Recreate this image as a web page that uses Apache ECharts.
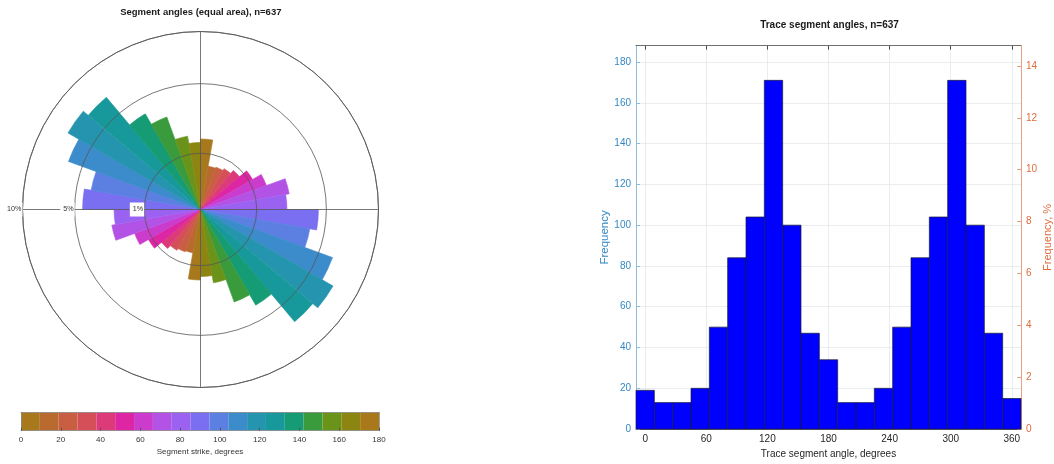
<!DOCTYPE html>
<html><head><meta charset="utf-8">
<script src="https://cdn.jsdelivr.net/npm/echarts@6/dist/echarts.min.js"></script>
<style>html,body{margin:0;padding:0;background:#fff}#c{width:1054px;height:464px}</style>
</head><body><div id="c"></div>
<script>
// ---------- Rose diagram data (percent of segments per 10° strike bin, 0-180) ----------
const strikeBins = ['0-10','10-20','20-30','30-40','40-50','50-60','60-70','70-80','80-90',
  '90-100','100-110','110-120','120-130','130-140','140-150','150-160','160-170','170-180'];
const strikePct = [1.57, 0.61, 0.64, 0.70, 0.82, 1.14, 1.55, 2.56, 2.36,
  4.39, 3.89, 6.23, 7.39, 6.77, 3.85, 3.06, 1.75, 1.42];
const roseRings = [1, 5, 10];          // percent circles (equal-area scale)
// discrete colormap (19 colours, 0..180 degrees)
const stripColors = ['#a8781c','#b96b2f','#c95f42','#d54f58','#dd3a79','#dc26a3','#cb3ccc',
  '#b353e6','#9b62f1','#7a6ff0','#5b80e2','#3c8ccb','#2594ae','#17989a','#169c74','#3a9b3c',
  '#699419','#8c8512','#a8781a'];
const colorbarTicks = [0,20,40,60,80,100,120,140,160,180];

// ---------- Histogram data ----------
const histCenters = [0,18,36,54,72,90,108,126,144,162,180,198,216,234,252,270,288,306,324,342,360];
const histCounts  = [19,13,13,20,50,84,104,171,100,47,34,13,13,20,50,84,104,171,100,47,15];
const xTicks = [0,60,120,180,240,300,360];
const leftTicks = [0,20,40,60,80,100,120,140,160,180];
const rightTicks = [0,2,4,6,8,10,12,14];
const leftMax = 188;

const FONT = '"Liberation Sans", Arial, Helvetica, sans-serif';
const totalCount = histCounts.reduce((a, b) => a + b, 0);
const rightMax = leftMax / totalCount * 100;
const binW = histCenters[1] - histCenters[0];

// rose: 36 petals starting at west (270°) going clockwise
const roseCats = [], roseData = [];
for (let j = 0; j < 36; j++) {
  const g = (270 + 10 * j) % 360;
  const b = (g % 180) / 10;
  roseCats.push(String(g));
  roseData.push({ value: Math.sqrt(strikePct[b]),
    itemStyle: { color: stripColors[b], borderColor: stripColors[b], borderWidth: 0.6 } });
}
const ringVals = roseRings.map(Math.sqrt);

const gridLineCol = '#555555';
const leftCol = '#3388c4', rightCol = '#dd6c3d';

const option = {
  animation: false,
  textStyle: { fontFamily: FONT },
  title: [
    { text: 'Segment angles (equal area), n=637', left: 200.8, top: 7.5, textAlign: 'center', padding: 0,
      textStyle: { fontSize: 9.5, fontWeight: 'bold', color: '#1a1a1a', fontFamily: FONT } },
    { text: 'Trace segment angles, n=637', left: 829.5, top: 20, textAlign: 'center', padding: 0,
      textStyle: { fontSize: 10, fontWeight: 'bold', color: '#1a1a1a', fontFamily: FONT } }
  ],
  polar: { center: [200.5, 209.5], radius: 178 },
  angleAxis: {
    type: 'category', data: roseCats, startAngle: 180, clockwise: true, boundaryGap: true, z: 10,
    axisLine: { show: true, lineStyle: { color: gridLineCol, width: 0.8 } },
    axisTick: { show: false, interval: 8 },
    axisLabel: { show: false },
    splitLine: { show: true, interval: 8, lineStyle: { color: gridLineCol, width: 0.8 } }
  },
  radiusAxis: {
    type: 'value', min: 0, max: Math.sqrt(10), z: 11,
    axisLine: { show: false },
    axisTick: { show: false, customValues: ringVals },
    axisLabel: {
      show: true, customValues: ringVals, formatter: v => Math.round(v * v) + '%',
      margin: 0, align: 'right', verticalAlign: 'middle', fontSize: 7.2, color: '#333',
      backgroundColor: '#fff', padding: [4, 1, 3, 3], fontFamily: FONT
    },
    splitLine: { show: true, lineStyle: { color: gridLineCol, width: 0.8 } }
  },
  grid: [
    { left: 636, top: 45.7, width: 386.5, height: 387 },
    { left: 21, top: 412.3, width: 358, height: 18.4 }
  ],
  xAxis: [
    { gridIndex: 0, type: 'value', min: -9, max: 369, position: 'bottom',
      axisLine: { show: true, onZero: false, lineStyle: { color: '#4d4d4d', width: 0.8 } },
      axisTick: { show: true, inside: true, length: 4, customValues: xTicks, lineStyle: { color: '#4d4d4d' } },
      axisLabel: { customValues: xTicks, fontSize: 10, color: '#262626', margin: 5 },
      splitLine: { show: true, lineStyle: { color: '#e3e8ec', width: 0.8 } },
      name: 'Trace segment angle, degrees', nameLocation: 'middle', nameGap: 19,
      nameTextStyle: { fontSize: 10, color: '#262626' } },
    { gridIndex: 0, type: 'value', min: -9, max: 369, position: 'top',
      axisLine: { show: true, onZero: false, lineStyle: { color: '#4d4d4d', width: 0.8 } },
      axisTick: { show: true, inside: true, length: 4, customValues: xTicks, lineStyle: { color: '#4d4d4d' } },
      axisLabel: { show: false }, splitLine: { show: false } },
    { gridIndex: 1, type: 'value', min: 0, max: 180, position: 'bottom', z: 5,
      axisLine: { show: true, onZero: false, lineStyle: { color: '#8c8c8c', width: 0.8 } },
      axisTick: { show: true, inside: true, length: 3, customValues: colorbarTicks, lineStyle: { color: '#555' } },
      axisLabel: { customValues: colorbarTicks, fontSize: 8, color: '#333', margin: 5 },
      splitLine: { show: false },
      name: 'Segment strike, degrees', nameLocation: 'middle', nameGap: 17,
      nameTextStyle: { fontSize: 8, color: '#333' } },
    { gridIndex: 1, type: 'value', min: 0, max: 180, position: 'top', z: 5,
      axisLine: { show: true, onZero: false, lineStyle: { color: '#8c8c8c', width: 0.8 } },
      axisTick: { show: false }, axisLabel: { show: false }, splitLine: { show: false } }
  ],
  yAxis: [
    { gridIndex: 0, type: 'value', min: 0, max: leftMax, position: 'left',
      axisLine: { show: true, onZero: false, lineStyle: { color: '#8fbde0', width: 1 } },
      axisTick: { show: true, inside: true, length: 4, customValues: leftTicks, lineStyle: { color: '#8fbde0' } },
      axisLabel: { customValues: leftTicks, fontSize: 10, color: leftCol, margin: 5 },
      splitLine: { show: true, lineStyle: { color: '#e3e8ec', width: 0.8 } },
      name: 'Frequency', nameLocation: 'middle', nameGap: 23, nameRotate: 90,
      nameTextStyle: { fontSize: 11.5, color: leftCol } },
    { gridIndex: 0, type: 'value', min: 0, max: rightMax, position: 'right',
      axisLine: { show: true, onZero: false, lineStyle: { color: '#e8a07e', width: 1 } },
      axisTick: { show: true, inside: true, length: 4, customValues: rightTicks, lineStyle: { color: '#e8a07e' } },
      axisLabel: { customValues: rightTicks, fontSize: 10, color: rightCol, margin: 5 },
      splitLine: { show: false },
      name: 'Frequency, %', nameLocation: 'middle', nameGap: 21, nameRotate: 90,
      nameTextStyle: { fontSize: 11, color: rightCol } },
    { gridIndex: 1, type: 'value', min: 0, max: 1, position: 'left', z: 5,
      axisLine: { show: true, onZero: false, lineStyle: { color: '#8c8c8c', width: 0.8 } },
      axisTick: { show: false }, axisLabel: { show: false }, splitLine: { show: false } },
    { gridIndex: 1, type: 'value', min: 0, max: 1, position: 'right', z: 5,
      axisLine: { show: true, onZero: false, lineStyle: { color: '#8c8c8c', width: 0.8 } },
      axisTick: { show: false }, axisLabel: { show: false }, splitLine: { show: false } }
  ],
  series: [
    { type: 'bar', coordinateSystem: 'polar', data: roseData, barCategoryGap: '0%', barGap: '0%', z: 2 },
    { type: 'custom', xAxisIndex: 0, yAxisIndex: 0,
      data: histCenters.map((c, i) => [c, histCounts[i]]),
      encode: { x: 0, y: 1 },
      renderItem: (params, api) => {
        const c = api.value(0), v = api.value(1);
        const p0 = api.coord([c - binW / 2, v]);
        const p1 = api.coord([c + binW / 2, 0]);
        return { type: 'rect', shape: { x: p0[0], y: p0[1], width: p1[0] - p0[0], height: p1[1] - p0[1] },
          style: { fill: '#0000ff', stroke: '#1a1a33', lineWidth: 0.7 } };
      } },
    { type: 'custom', xAxisIndex: 2, yAxisIndex: 2, z: 1,
      data: stripColors.map((c, i) => [i, 0]),
      encode: { x: 0, y: 1 },
      renderItem: (params, api) => {
        const i = api.value(0), n = stripColors.length;
        const p0 = api.coord([i * 180 / n, 1]);
        const p1 = api.coord([(i + 1) * 180 / n, 0]);
        return { type: 'rect', shape: { x: p0[0], y: p0[1], width: p1[0] - p0[0], height: p1[1] - p0[1] },
          style: { fill: stripColors[i] } };
      } }
  ]
};
const chart = echarts.init(document.getElementById('c'), null, { renderer: 'canvas' });
chart.setOption(option);
</script></body></html>
